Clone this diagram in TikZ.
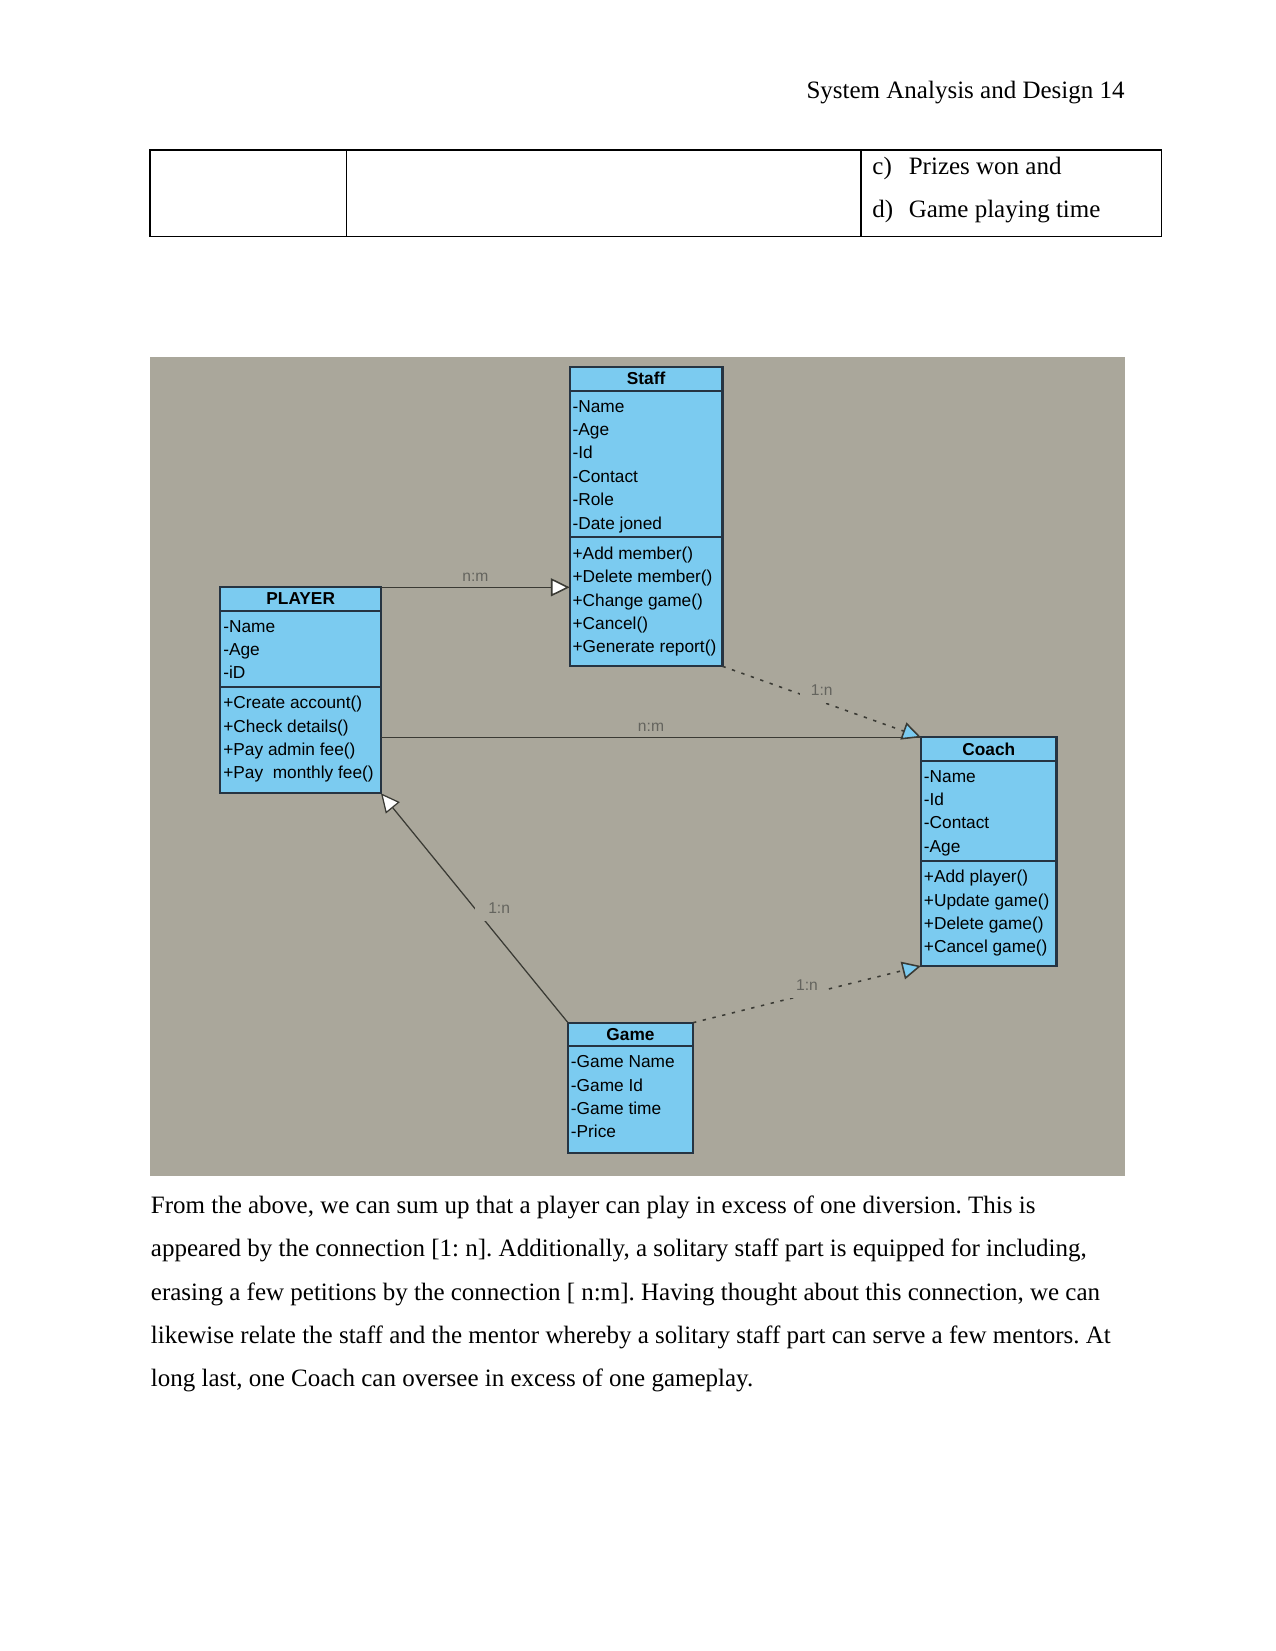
\documentclass[tikz,border=0pt]{standalone}
\usepackage{fontspec}
\setmainfont{Liberation Serif}
\newfontfamily\umlfont{Liberation Sans}
\usetikzlibrary{arrows.meta,positioning}
\frenchspacing

\definecolor{canvas}{RGB}{170,167,155}
\definecolor{classfill}{RGB}{123,203,240}
\definecolor{classline}{RGB}{38,52,66}
\definecolor{linkline}{RGB}{58,58,52}
\definecolor{lblgray}{RGB}{100,100,94}

\newdimen\upx \upx=0.48pt

\tikzset{
  pagetext/.style={inner sep=0pt, anchor=base west, font=\fontsize{12}{14}\selectfont},
  classpart/.style={draw=classline, fill=classfill, line width=1pt, inner sep=0pt, outer sep=0pt, anchor=north west},
  classtitle/.style={font=\umlfont\bfseries\fontsize{8.3}{10}\selectfont},
  classitems/.style={font=\umlfont\fontsize{8.3}{11.23}\selectfont, align=left, inner sep=0pt, anchor=north west},
  assoc/.style={draw=linkline, line width=0.75pt},
  depend/.style={assoc, dash pattern=on 1.6pt off 3.2pt},
  openhead/.style={-{Triangle[length=9pt, width=8.6pt, fill=white]}},
  bluehead/.style={-{Triangle[length=9pt, width=8.6pt, fill=classfill]}},
  mult/.style={font=\umlfont\fontsize{7.5}{9}\selectfont, text=lblgray, fill=canvas, inner sep=3.5pt},
  multabove/.style={mult, fill=none, inner sep=0pt}
}

\begin{document}
\begin{tikzpicture}[x=0.48pt,y=-0.48pt]
  \useasboundingbox (0,0) rectangle (1275,1651);
  \fill[white] (0,0) rectangle (1275,1651);

  % header and table row
  \node[pagetext, anchor=base east] (header) at (1125,98.5) {System Analysis and Design 14};
  \draw[line width=0.6pt] (150,150) rectangle (1161.5,236.7);
  \draw[line width=0.6pt] (346.3,150) -- (346.3,236.7);
  \draw[line width=0.6pt] (861,150) -- (861,236.7);
  \node[pagetext] (itemc) at (872,174.3) {\makebox[36.4\upx][l]{c)}Prizes won and};
  \node[pagetext] (itemd) at (872,217.3) {\makebox[36.4\upx][l]{d)}Game playing time};

  % class diagram
  \fill[canvas] (150,357) rectangle (1125,1176);

  % Staff
  \node[classpart, classtitle, minimum width=152.8\upx, minimum height=24\upx] (staff-head) at (569.7,366.7) {Staff};
  \node[classpart, minimum width=152.8\upx, minimum height=146.6\upx, below=0pt of staff-head] (staff-attr) {};
  \node[classpart, minimum width=152.8\upx, minimum height=129\upx, below=0pt of staff-attr] (staff-ops) {};
  \node[classitems] (staff-attr-txt) at ([xshift=2.5\upx, yshift=-9.1\upx]staff-attr.north west)
    {-Name\\-Age\\-Id\\-Contact\\-Role\\-Date joned};
  \node[classitems] (staff-ops-txt) at ([xshift=2.5\upx, yshift=-9.1\upx]staff-ops.north west)
    {+Add member()\\+Delete member()\\+Change game()\\+Cancel()\\+Generate report()};

  % PLAYER
  \node[classpart, classtitle, minimum width=160.6\upx, minimum height=23.4\upx] (player-head) at (220.4,587.3) {PLAYER};
  \node[classpart, minimum width=160.6\upx, minimum height=76\upx, below=0pt of player-head] (player-attr) {};
  \node[classpart, minimum width=160.6\upx, minimum height=106.6\upx, below=0pt of player-attr] (player-ops) {};
  \node[classitems] (player-attr-txt) at ([xshift=2.5\upx, yshift=-9.1\upx]player-attr.north west)
    {-Name\\-Age\\-iD};
  \node[classitems] (player-ops-txt) at ([xshift=2.5\upx, yshift=-9.1\upx]player-ops.north west)
    {+Create account()\\+Check details()\\+Pay admin fee()\\+Pay~ monthly fee()};

  % Coach
  \node[classpart, classtitle, minimum width=135.5\upx, minimum height=23.4\upx] (coach-head) at (921,737.3) {Coach};
  \node[classpart, minimum width=135.5\upx, minimum height=100\upx, below=0pt of coach-head] (coach-attr) {};
  \node[classpart, minimum width=135.5\upx, minimum height=105.3\upx, below=0pt of coach-attr] (coach-ops) {};
  \node[classitems] (coach-attr-txt) at ([xshift=2.5\upx, yshift=-9.1\upx]coach-attr.north west)
    {-Name\\-Id\\-Contact\\-Age};
  \node[classitems] (coach-ops-txt) at ([xshift=2.5\upx, yshift=-9.1\upx]coach-ops.north west)
    {+Add player()\\+Update game()\\+Delete game()\\+Cancel game()};

  % Game
  \node[classpart, classtitle, minimum width=125\upx, minimum height=23.3\upx] (game-head) at (568,1022.7) {Game};
  \node[classpart, minimum width=125\upx, minimum height=106.7\upx, below=0pt of game-head] (game-attr) {};
  \node[classitems] (game-attr-txt) at ([xshift=2.5\upx, yshift=-9.1\upx]game-attr.north west)
    {-Game Name\\-Game Id\\-Game time\\-Price};

  % relations
  \draw[assoc, openhead] (player-head.north east) -- (player-head.north east -| staff-ops.west)
    node[multabove, midway, yshift=9.6\upx] (lbl-ps) {n:m};
  \draw[assoc] (coach-head.north west -| player-ops.east) -- (coach-head.north west)
    node[multabove, midway, yshift=10\upx] (lbl-pc) {n:m};
  \draw[depend, bluehead] (staff-ops.south east) -- (coach-head.north west)
    node[mult, midway, yshift=11.8\upx, inner xsep=5pt] (lbl-sc) {1:n};
  \draw[assoc, line width=0.6pt, openhead] (game-head.north west) -- (player-ops.south east)
    node[mult, midway, anchor=west, inner xsep=6.3pt] (lbl-gp) {1:n};
  \draw[depend, bluehead] (game-head.north east) -- (coach-ops.south west)
    node[mult, midway, yshift=9.4\upx] (lbl-gc) {1:n};

  % text below the figure
  \node[pagetext] (para1) at (150.5,1213.5) {From the above, we can sum up that a player can play in excess of one diversion. This is};
  \node[pagetext] (para2) at (150.5,1256.8) {appeared by the connection [1: n]. Additionally, a solitary staff part is equipped for including,};
  \node[pagetext] (para3) at (150.5,1300) {erasing a few petitions by the connection [ n:m]. Having thought about this connection, we can};
  \node[pagetext] (para4) at (150.5,1343.3) {likewise relate the staff and the mentor whereby a solitary staff part can serve a few mentors. At};
  \node[pagetext] (para5) at (150.5,1386.5) {long last, one Coach can oversee in excess of one gameplay.};
\end{tikzpicture}
\end{document}
